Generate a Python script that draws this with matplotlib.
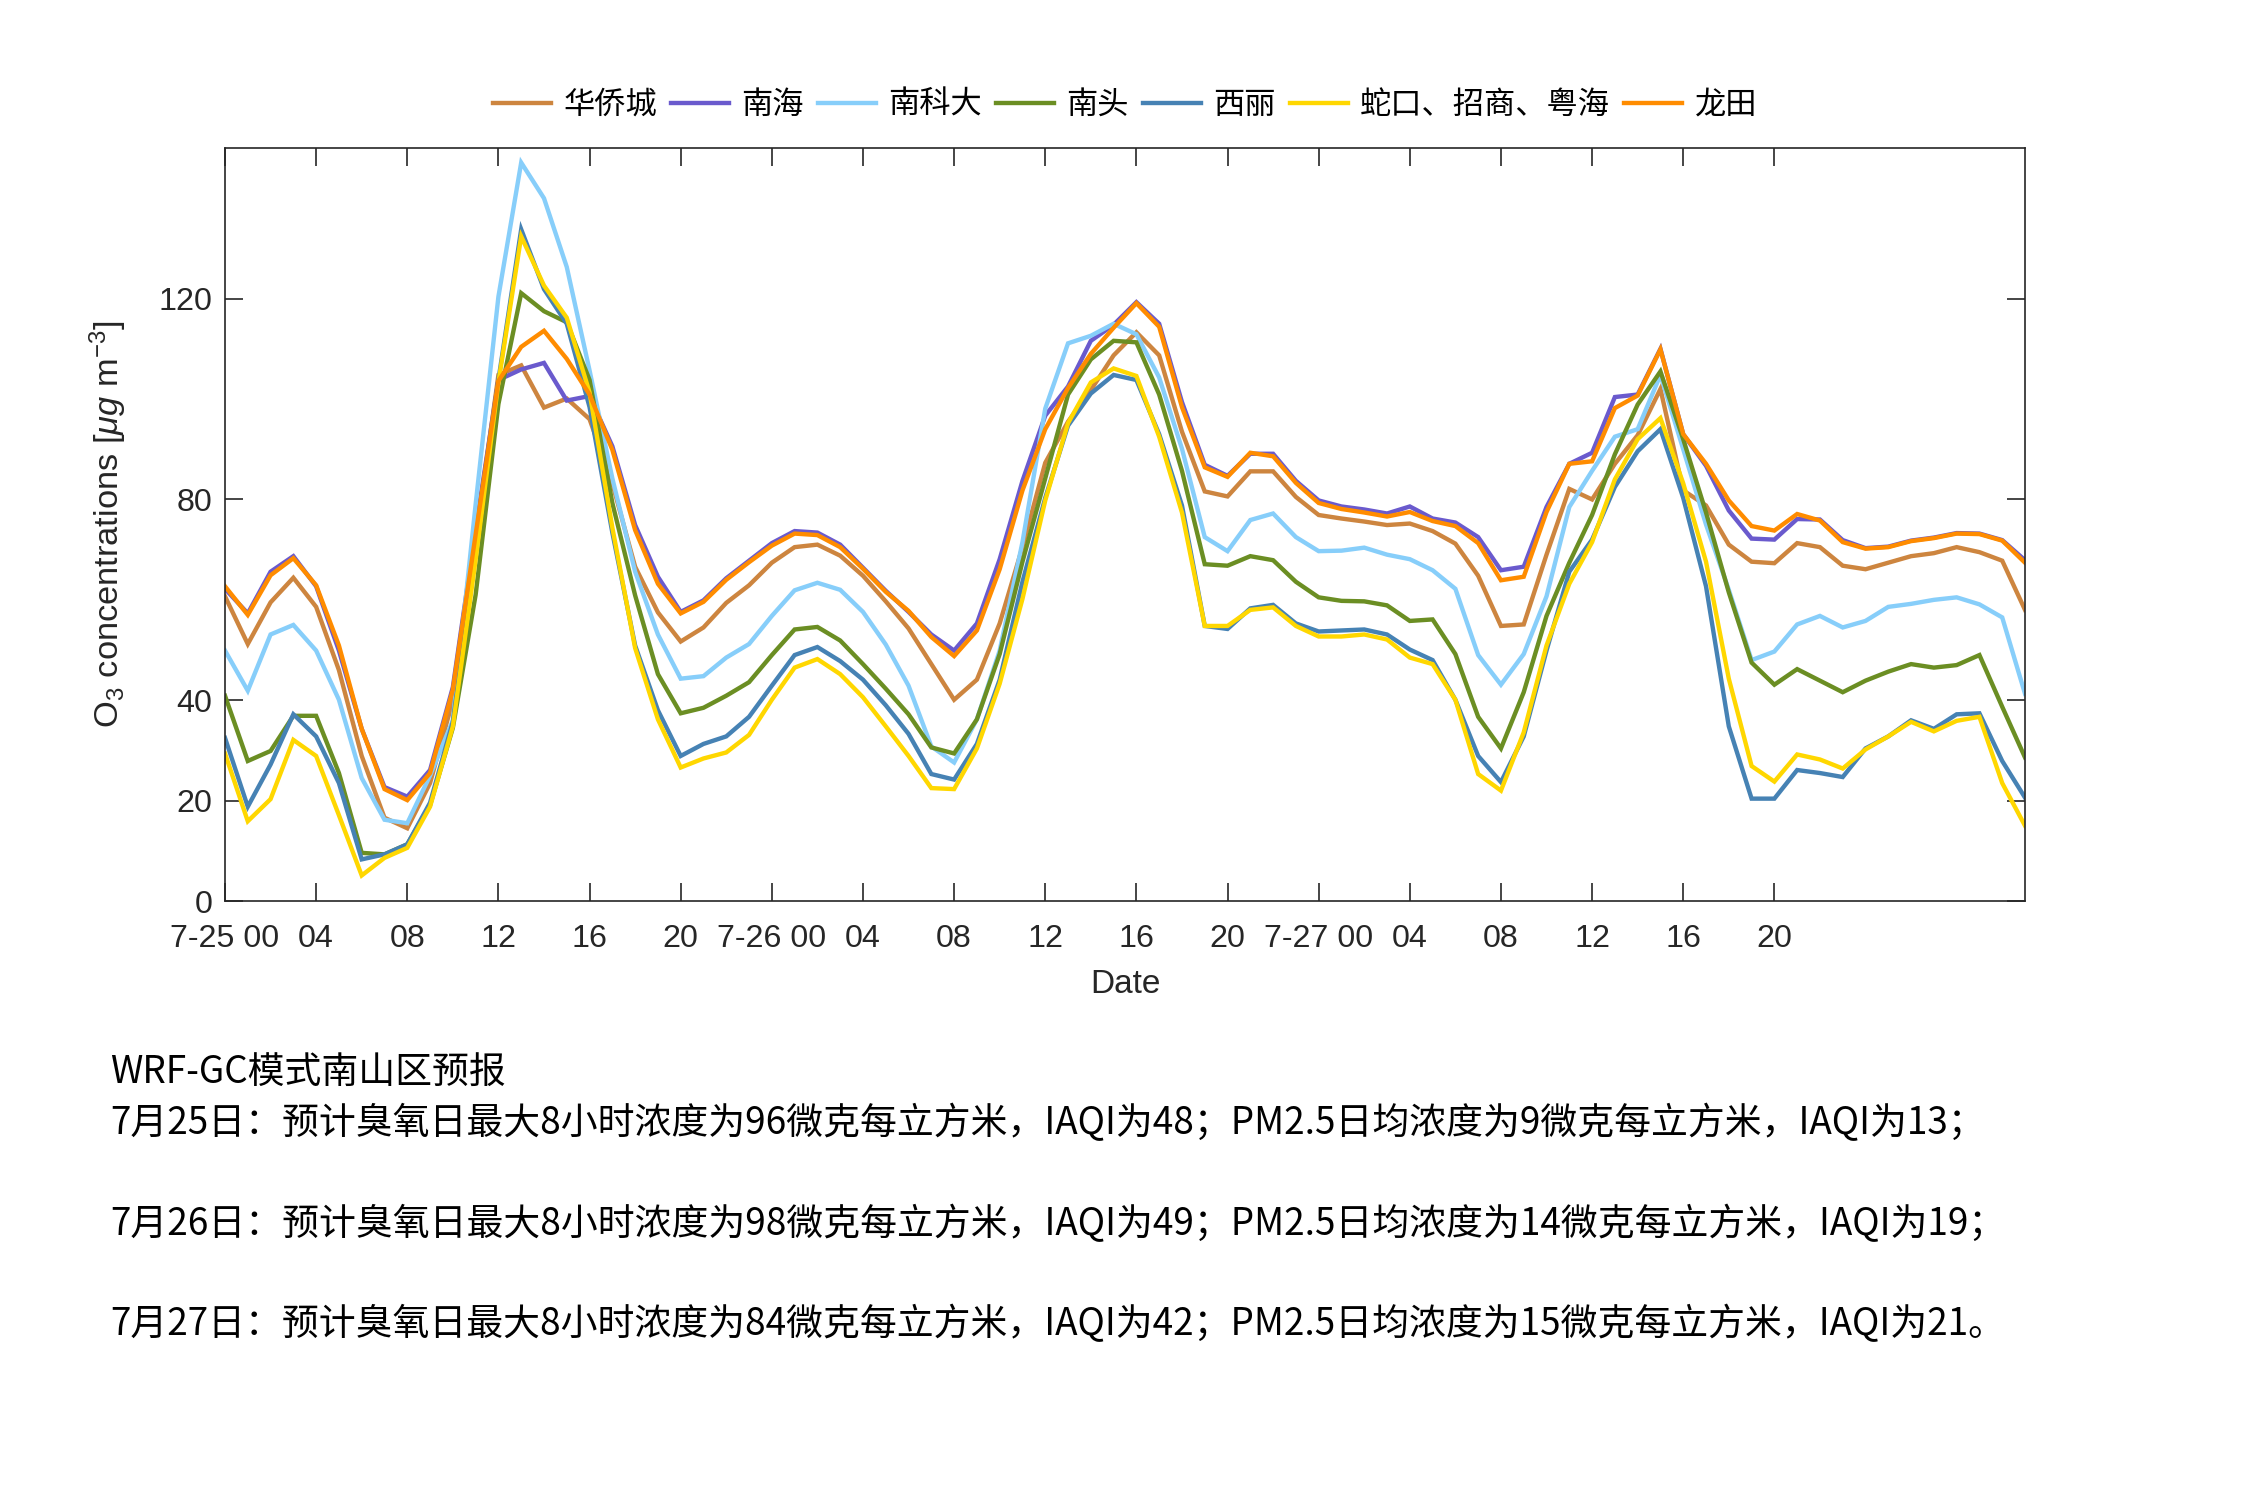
import matplotlib
matplotlib.use("Agg")
import matplotlib.pyplot as plt
import numpy as np

plt.rcParams['font.family'] = ['Liberation Sans', 'Noto Sans CJK SC', 'DejaVu Sans']
plt.rcParams['mathtext.fontset'] = 'custom'
plt.rcParams['mathtext.rm'] = 'Liberation Sans'
plt.rcParams['mathtext.it'] = 'Liberation Sans:italic'

hours = list(range(80))

names = ['华侨城', '南海', '南科大', '南头', '西丽', '蛇口、招商、粤海', '龙田']
colors = ['#CD853F', '#6A5ACD', '#87CEFA', '#6B8E23', '#4682B4', '#FFD700', '#FF8C00']

hqc = [60.7, 51.2, 59.5, 64.4, 58.6, 46.0, 28.9, 16.6, 14.5, 23.5,
       40.0, 72.0, 104.8, 106.7, 98.3, 100.1, 96.0, 83.2, 66.6, 57.5,
       51.7, 54.5, 59.4, 62.9, 67.4, 70.5, 71.0, 68.8, 64.8, 59.7,
       54.3, 47.2, 40.1, 44.1, 55.3, 70.5, 87.3, 95.5, 101.8, 108.7,
       113.3, 108.7, 93.5, 81.6, 80.6, 85.6, 85.6, 80.5, 76.9, 76.2,
       75.6, 74.9, 75.2, 73.7, 71.2, 64.8, 54.8, 55.1, 69.0, 82.1,
       80.0, 87.1, 92.8, 102.0, 81.8, 78.8, 71.0, 67.6, 67.3, 71.3,
       70.5, 66.8, 66.1, 67.4, 68.7, 69.3, 70.5, 69.5, 67.8, 58.0]

nh = [62.2, 57.3, 65.6, 68.7, 62.7, 49.9, 34.3, 22.7, 20.8, 26.1,
      42.6, 74.0, 103.8, 105.9, 107.2, 99.7, 100.6, 90.6, 74.9, 64.6,
      57.6, 59.9, 64.3, 67.8, 71.3, 73.7, 73.4, 71.0, 66.4, 61.8,
      57.6, 53.1, 49.9, 55.3, 68.1, 83.7, 96.7, 102.5, 111.6, 114.8,
      119.3, 115.0, 99.4, 86.9, 84.7, 89.1, 89.1, 83.7, 79.8, 78.6,
      78.0, 77.2, 78.6, 76.2, 75.4, 72.5, 65.9, 66.6, 78.5, 87.1,
      89.3, 100.4, 100.9, 110.0, 93.0, 86.7, 77.8, 72.2, 72.0, 76.1,
      76.0, 71.9, 70.3, 70.6, 71.8, 72.4, 73.3, 73.2, 71.9, 67.9]

nkd = [49.9, 41.9, 53.1, 55.0, 49.9, 40.1, 24.5, 16.2, 15.5, 25.0,
       36.0, 79.0, 120.4, 147.1, 140.0, 126.3, 105.7, 84.2, 65.6, 53.1,
       44.3, 44.8, 48.5, 51.2, 56.8, 61.9, 63.4, 62.0, 57.6, 51.1,
       42.9, 30.8, 27.6, 36.2, 49.9, 71.5, 98.1, 111.1, 112.6, 115.0,
       112.9, 104.3, 90.1, 72.5, 69.7, 75.9, 77.2, 72.5, 69.7, 69.8,
       70.4, 69.0, 68.1, 65.9, 62.2, 49.0, 43.1, 49.2, 60.7, 78.5,
       85.7, 92.5, 94.0, 104.8, 90.0, 75.0, 62.0, 48.0, 49.7, 55.1,
       56.8, 54.5, 55.8, 58.6, 59.2, 60.0, 60.5, 59.1, 56.5, 41.3]

nt = [40.9, 27.9, 29.9, 36.9, 36.9, 25.5, 9.6, 9.3, 11.3, 19.1,
      34.5, 61.0, 99.0, 121.1, 117.5, 115.3, 103.8, 79.3, 60.9, 45.2,
      37.4, 38.5, 40.9, 43.6, 49.0, 54.1, 54.6, 51.9, 47.2, 42.3,
      37.2, 30.6, 29.4, 36.2, 49.2, 67.6, 84.2, 100.9, 107.9, 111.6,
      111.3, 100.9, 85.7, 67.1, 66.8, 68.7, 67.9, 63.6, 60.5, 59.8,
      59.7, 58.9, 55.8, 56.1, 49.2, 36.7, 30.4, 41.6, 56.8, 67.4,
      76.9, 89.0, 98.9, 105.5, 92.0, 77.4, 61.5, 47.5, 43.1, 46.2,
      43.9, 41.6, 43.9, 45.7, 47.2, 46.5, 47.0, 49.0, 38.7, 28.6]

xl = [32.5, 18.8, 27.2, 37.2, 32.8, 23.5, 8.3, 9.3, 11.3, 19.6,
      35.7, 70.0, 103.8, 133.8, 121.9, 115.0, 98.4, 73.4, 50.9, 38.0,
      28.9, 31.3, 32.8, 36.7, 42.9, 49.0, 50.6, 47.8, 44.1, 39.0,
      33.3, 25.3, 24.2, 31.3, 44.1, 63.6, 80.3, 94.7, 101.1, 104.8,
      103.8, 93.0, 78.8, 54.8, 54.2, 58.3, 59.0, 55.3, 53.7, 53.9,
      54.1, 53.1, 50.1, 48.0, 40.1, 28.9, 23.7, 32.8, 49.9, 65.6,
      72.0, 82.5, 89.6, 94.0, 80.3, 62.7, 34.8, 20.4, 20.4, 26.1,
      25.5, 24.7, 30.4, 32.8, 36.0, 34.3, 37.2, 37.4, 27.9, 20.6]

sk = [29.4, 15.9, 20.3, 32.1, 28.9, 17.1, 5.1, 8.6, 10.6, 18.8,
      34.8, 68.0, 103.3, 132.4, 122.6, 116.2, 101.3, 74.4, 50.4, 36.2,
      26.6, 28.4, 29.6, 33.1, 40.1, 46.5, 48.2, 45.2, 40.6, 34.8,
      28.9, 22.5, 22.3, 30.4, 43.3, 60.2, 79.8, 95.2, 103.3, 106.1,
      104.6, 92.5, 77.4, 54.8, 54.8, 58.0, 58.5, 54.8, 52.7, 52.7,
      53.1, 52.1, 48.5, 47.2, 40.1, 25.3, 22.0, 33.6, 50.9, 63.2,
      71.5, 84.0, 92.0, 96.2, 83.2, 67.6, 44.3, 26.9, 23.8, 29.2,
      28.2, 26.4, 30.2, 32.8, 35.7, 33.8, 35.9, 36.7, 23.5, 15.0]

lt = [62.7, 57.0, 64.9, 68.3, 62.9, 50.9, 34.3, 22.3, 20.1, 25.5,
      42.1, 73.0, 103.6, 110.4, 113.6, 108.0, 100.9, 89.9, 73.9, 63.2,
      57.3, 59.6, 64.0, 67.5, 70.8, 73.2, 72.9, 70.5, 66.2, 61.6,
      57.8, 52.6, 48.8, 53.9, 66.1, 81.8, 94.0, 102.2, 109.0, 114.2,
      119.1, 114.4, 98.4, 86.4, 84.5, 89.3, 88.6, 83.3, 79.3, 78.1,
      77.4, 76.6, 77.5, 75.7, 74.7, 71.3, 63.9, 64.6, 77.5, 87.1,
      87.6, 98.2, 100.7, 109.9, 93.0, 87.1, 79.8, 74.7, 73.8, 77.1,
      75.8, 71.5, 70.2, 70.5, 71.7, 72.3, 73.2, 73.1, 71.8, 67.4]

series = [hqc, nh, nkd, nt, xl, sk, lt]

xtick_pos = list(range(0, 69, 4))
xtick_labels = ['7-25 00', '04', '08', '12', '16', '20',
                '7-26 00', '04', '08', '12', '16', '20',
                '7-27 00', '04', '08', '12', '16', '20']
ytick_pos = [0, 20, 40, 80, 120]

text_lines = [
    'WRF-GC模式南山区预报',
    '7月25日：预计臭氧日最大8小时浓度为96微克每立方米，IAQI为48；PM2.5日均浓度为9微克每立方米，IAQI为13；',
    '7月26日：预计臭氧日最大8小时浓度为98微克每立方米，IAQI为49；PM2.5日均浓度为14微克每立方米，IAQI为19；',
    '7月27日：预计臭氧日最大8小时浓度为84微克每立方米，IAQI为42；PM2.5日均浓度为15微克每立方米，IAQI为21。',
]
text_y = [0.2842, 0.2507, 0.1837, 0.1167]

axcol = '#262626'
fig = plt.figure(figsize=(15, 10), dpi=150)
ax = fig.add_axes([0.1, 0.3993, 0.8, 0.502])

for name, vals, c in zip(names, series, colors):
    ax.plot(hours, vals, color=c, lw=2.1, label=name, solid_joinstyle='miter')

ax.set_xlim(0, 79)
ax.set_ylim(0, 150)
ax.set_xticks(xtick_pos)
ax.set_xticklabels(xtick_labels)
ax.set_yticks(ytick_pos)
ax.tick_params(direction='in', length=8.6, width=0.8, top=True, right=True,
               labelsize=15.5, colors=axcol)
ax.tick_params(axis='y', pad=6)
ax.tick_params(axis='x', pad=11)
for s in ax.spines.values():
    s.set_color(axcol)
    s.set_linewidth(0.8)

ax.set_xlabel('Date', fontsize=16, color=axcol, labelpad=7)
ax.set_ylabel(r'O$_3$ concentrations [$\mathit{\mu g}$ m$^{-3}$]', fontsize=16.5,
              color=axcol, labelpad=14)

leg = fig.legend(loc='center', bbox_to_anchor=(0.5, 0.930), ncol=7, frameon=False,
                 prop={'family': ['Noto Sans CJK SC'], 'size': 15},
                 handlelength=1.85, handletextpad=0.4, columnspacing=0.45)

for t, y in zip(text_lines, text_y):
    fig.text(0.049, y, t, fontsize=17.7, va='center', ha='left',
             family=['Noto Sans CJK SC'], color='black')

fig.savefig('out.png', dpi=150)
